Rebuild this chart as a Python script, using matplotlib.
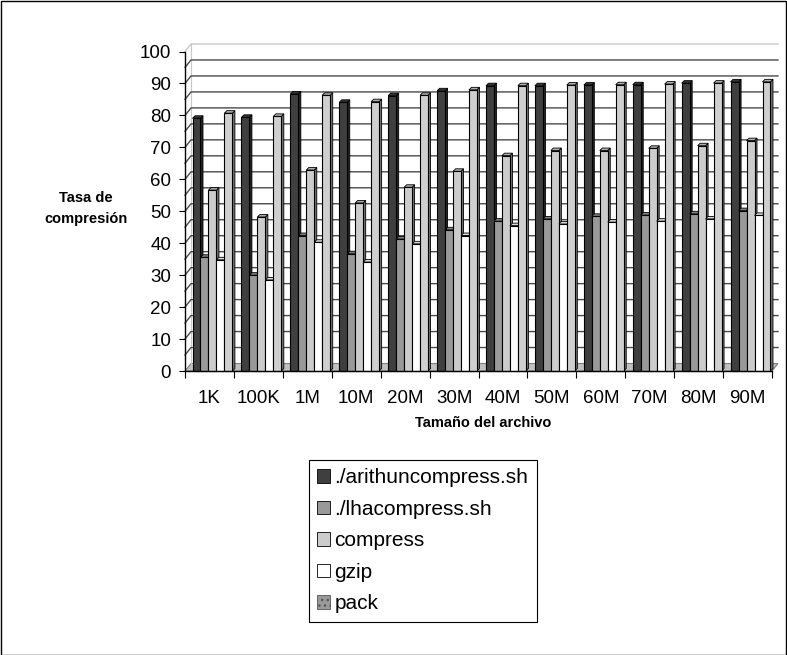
import matplotlib
matplotlib.use('Agg')
import matplotlib.pyplot as plt
from matplotlib.patches import Polygon, Rectangle, Patch
import numpy as np

plt.rcParams['font.family'] = ['Liberation Sans', 'DejaVu Sans']

categories = ['1K', '100K', '1M', '10M', '20M', '30M', '40M', '50M', '60M', '70M', '80M', '90M']
arith = [79.1, 79.4, 86.7, 84.1, 86.2, 87.7, 89.3, 89.3, 89.5, 89.6, 90.1, 90.5]
lha = [35.6, 30.0, 42.4, 36.7, 41.3, 44.2, 46.9, 47.6, 48.4, 48.8, 49.2, 50.2]
compress = [56.6, 48.2, 62.9, 52.6, 57.5, 62.5, 67.4, 69.0, 69.0, 69.7, 70.5, 72.1]
gzip = [34.8, 28.5, 40.3, 34.1, 39.8, 42.4, 45.5, 46.0, 46.6, 46.9, 47.6, 48.7]
pack = [80.7, 79.7, 86.3, 84.3, 86.3, 88.0, 89.3, 89.5, 89.6, 89.8, 90.1, 90.5]
series_names = ['./arithuncompress.sh', './lhacompress.sh', 'compress', 'gzip', 'pack']
series_values = [arith, lha, compress, gzip, pack]
yticks = list(range(0, 101, 10))

colors = ['#3f3f3f', '#999999', '#cccccc', '#ffffff', '#cfcfcf']

W, H = 787, 655
fig = plt.figure(figsize=(W / 100, H / 100), dpi=100)
ax_l, ax_r, ax_b, ax_t = 185, 772, 371, 51.5
ax = fig.add_axes([ax_l / W, 1 - ax_b / H, (ax_r - ax_l) / W, (ax_b - ax_t) / H])
n = len(categories)
ax.set_xlim(-0.5, n - 0.5)
ax.set_ylim(0, 100)
ax.patch.set_visible(False)

pxx = (ax_r - ax_l) / n
pxy = (ax_b - ax_t) / 100
wall_dx = 6 / pxx
wall_dy = 7.5 / pxy
bar_dx = 2.5 / pxx
bar_dy = 2.5 / pxy
shift = 3 / pxx

# floor
floor = Polygon([(-0.5, 0), (n - 0.5, 0), (n - 0.5 + wall_dx, wall_dy), (-0.5 + wall_dx, wall_dy)],
                closed=True, fc='#c0c0c0', ec='#808080', lw=0.8, clip_on=False, zorder=1)
ax.add_patch(floor)
# back wall left edge
ax.plot([-0.5 + wall_dx, -0.5 + wall_dx], [wall_dy, 100 + wall_dy], color='#c8c8c8', lw=0.8,
        clip_on=False, zorder=1)
# gridlines on side and back walls
for v in range(5, 101, 5):
    c = '#c8c8c8' if v == 100 else '#4a4a4a'
    ax.plot([-0.5, -0.5 + wall_dx, n - 0.5 + wall_dx], [v, v + wall_dy, v + wall_dy],
            color=c, lw=1.0, clip_on=False, zorder=1.5)

bw = 0.163
x = np.arange(n)
for j, (vals, col) in enumerate(zip(series_values, colors)):
    rgb = np.array(matplotlib.colors.to_rgb(col))
    side = rgb * 0.55
    top = rgb * 0.85
    x0s = x - 2.5 * bw + j * bw + shift
    ax.bar(x0s, vals, width=bw, align='edge', color=col, edgecolor='black', lw=0.8,
           zorder=3 + 2 * j + 1, clip_on=False)
    for x0, v in zip(x0s, vals):
        sp = Polygon([(x0 + bw, 0), (x0 + bw + bar_dx, bar_dy), (x0 + bw + bar_dx, v + bar_dy), (x0 + bw, v)],
                     closed=True, fc=side, ec='black', lw=0.6, zorder=3 + 2 * j, clip_on=False)
        tp = Polygon([(x0, v), (x0 + bw, v), (x0 + bw + bar_dx, v + bar_dy), (x0 + bar_dx, v + bar_dy)],
                     closed=True, fc=top, ec='black', lw=0.6, zorder=3 + 2 * j, clip_on=False)
        ax.add_patch(sp)
        ax.add_patch(tp)

for s in ['top', 'right']:
    ax.spines[s].set_visible(False)
for s in ['left', 'bottom']:
    ax.spines[s].set_color('black')
    ax.spines[s].set_linewidth(1.0)
    ax.spines[s].set_zorder(20)

ax.set_yticks(yticks)
ax.set_yticklabels([str(t) for t in yticks], fontsize=13.5)
ax.tick_params(axis='y', direction='out', length=4, width=0.8, pad=6)
ax.set_xticks(x)
ax.set_xticklabels(categories, fontsize=13.5)
ax.set_xticks(np.arange(-0.5, n, 1), minor=True)
ax.tick_params(axis='x', which='major', length=0, pad=14)
ax.tick_params(axis='x', which='minor', length=5, width=0.8, direction='out')

fig.text(86 / W, 1 - 208.5 / H, 'Tasa de\ncompresión', ha='center', va='center',
         fontsize=10.5, fontweight='bold', linespacing=1.65)
fig.text(483 / W, 1 - 423 / H, 'Tamaño del archivo', ha='center', va='center',
         fontsize=10.5, fontweight='bold')

pack_handle = Patch(facecolor='#9a9a9a', edgecolor='#555555', hatch='...', lw=0.6)
leg_handles = [Patch(facecolor=colors[k], edgecolor='black', lw=0.6) for k in range(4)] + [pack_handle]
leg = fig.legend(leg_handles, series_names, loc='upper left', bbox_to_anchor=(309 / W, 1 - 460 / H),
                 frameon=True, fancybox=False, edgecolor='black', fontsize=15, handlelength=0.6,
                 handleheight=0.6, handletextpad=0.22, labelspacing=0.6, borderpad=0.4,
                 borderaxespad=0, framealpha=1)
leg.get_frame().set_linewidth(0.8)

fig.patches.append(Rectangle((0.5 / W, 0.5 / H), 1 - 1.5 / W, 1 - 1.5 / H, transform=fig.transFigure,
                             fill=False, ec='black', lw=1.0))

fig.savefig('out.png', dpi=100)
